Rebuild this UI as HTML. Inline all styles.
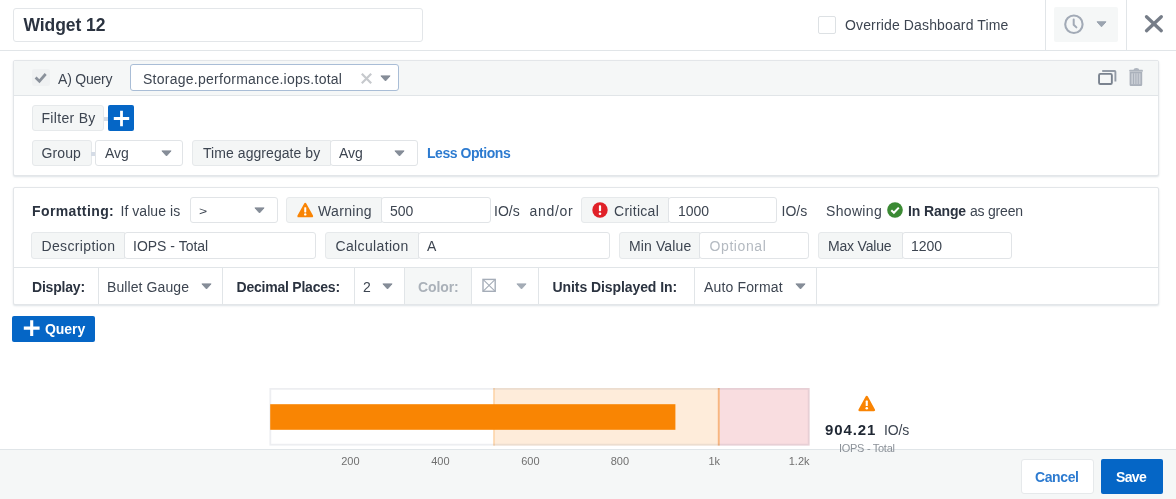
<!DOCTYPE html>
<html lang="en">
<head>
<meta charset="utf-8">
<title>Widget 12</title>
<style>
*{box-sizing:border-box;margin:0;padding:0}
html,body{width:1176px;height:499px;overflow:hidden;background:#fff}
body{position:relative;font-family:"Liberation Sans",sans-serif;font-size:14px;color:#3d4551}
.abs{position:absolute}
.t{position:absolute;white-space:nowrap;line-height:16px;height:16px}
.b{font-weight:bold}
.box{position:absolute;border:1px solid #e1e4e7;background:#fff;border-radius:3px}
.lbl{position:absolute;border:1px solid #e6e9eb;background:#f4f6f6;border-radius:3px}
.car{position:absolute;width:0;height:0;border-left:5px solid transparent;border-right:5px solid transparent;border-top:6px solid #8b939c}
.vd{position:absolute;width:1px;background:#e1e5e8}
.hd{position:absolute;height:1px;background:#e1e5e8}
.panel{position:absolute;border:1px solid #e3e6e9;background:#fff;border-radius:2px;box-shadow:0 1px 2px rgba(180,190,200,.45)}
.j{border-radius:3px 0 0 3px}
</style>
</head>
<body>

<!-- header -->
<div class="box" style="left:13px;top:8px;width:410px;height:34px;border-color:#e3e6e9"></div>
<span class="t b" id="t1" style="left:23.5px;top:15px;font-size:17.5px;line-height:20px;height:20px;color:#2b3340;letter-spacing:-0.06px">Widget 12</span>
<div class="box" style="left:818px;top:16px;width:18px;height:18px;border-color:#dde1e4;border-radius:2px"></div>
<span class="t" id="t2" style="left:845px;top:17px;letter-spacing:0.14px">Override Dashboard Time</span>
<div class="vd" style="left:1045px;top:0;height:50px"></div>
<div class="abs" style="left:1054px;top:7px;width:64px;height:35px;background:#f5f7f7;border-radius:2px"></div>
<svg class="abs" style="left:1063px;top:13px" width="22" height="23" viewBox="0 0 22 23"><circle cx="10.900" cy="11.250" r="8.700" fill="none" stroke="#a2aab6" stroke-width="2.100"/><path d="M10.700 6.400v5.300l2.700 2.700" fill="none" stroke="#a2aab6" stroke-width="2" stroke-linecap="round" stroke-linejoin="round"/></svg>
<svg class="abs" style="left:1096px;top:21px" width="11" height="7" viewBox="0 0 11 7"><path d="M1 .8h9L5.500 5.800z" fill="#9ba4b0" stroke="#9ba4b0" stroke-width="1" stroke-linejoin="round"/></svg>
<div class="vd" style="left:1126px;top:0;height:50px"></div>
<svg class="abs" style="left:1144px;top:14px" width="20" height="20" viewBox="0 0 20 20"><path d="M2.500 2.700l14.800 14M17.300 2.700l-14.800 14" stroke="#767d88" stroke-width="3.300" stroke-linecap="round" fill="none"/></svg>
<div class="hd" style="left:0;top:50px;width:1176px"></div>

<!-- query panel -->
<div class="panel" style="left:13px;top:60px;width:1146px;height:116px"></div>
<div class="abs" style="left:14px;top:61px;width:1144px;height:34px;background:#f5f7f7;border-radius:2px 2px 0 0"></div>
<div class="hd" style="left:14px;top:95px;width:1144px"></div>
<div class="abs" style="left:31.500px;top:69px;width:18px;height:17px;background:#eff1f2;border-radius:2px"></div>
<svg class="abs" style="left:33px;top:71px" width="15" height="13" viewBox="0 0 15 13"><path d="M2.600 6.500l3.800 3.700 6.300-7.200" stroke="#8a919b" stroke-width="2.700" fill="none"/></svg>
<span class="t" id="t3" style="left:58px;top:71px;letter-spacing:-0.21px">A) Query</span>
<div class="box" style="left:130px;top:64px;width:269px;height:27px;border-color:#a9bdd6"></div>
<span class="t" id="t4" style="left:143px;top:71px;letter-spacing:0.26px">Storage.performance.iops.total</span>
<svg class="abs" style="left:360px;top:72px" width="13" height="13" viewBox="0 0 13 13"><path d="M1.800 1.800l9.400 9.400M11.200 1.800l-9.400 9.400" stroke="#c6c9cd" stroke-width="2.200" fill="none"/></svg>
<svg class="abs" style="left:380px;top:74.5px" width="11" height="7" viewBox="0 0 11 7"><path d="M.9 .9h9.200L5.500 5.900z" fill="#858d98" stroke="#858d98" stroke-width="1" stroke-linejoin="round"/></svg>
<svg class="abs" style="left:1097px;top:69px" width="21" height="18" viewBox="0 0 21 18"><path d="M5.200 2h12.400a.8.800 0 0 1 .8.800v9.800" fill="none" stroke="#939ba6" stroke-width="1.900"/><rect x="2.050" y="4.850" width="12.800" height="10.100" rx="1.300" fill="none" stroke="#7a838f" stroke-width="1.900"/></svg>
<svg class="abs" style="left:1128px;top:67px" width="16" height="20" viewBox="0 0 16 20"><path d="M5.600 3.100a2.750 2.200 0 0 1 5.500 0z" fill="#aeb5be"/><rect x="1.400" y="2.800" width="13.400" height="1.900" rx=".5" fill="#aeb5be"/><path d="M1.600 4.900h12.600v12.900a1.200 1.200 0 0 1-1.200 1.200h-10.200a1.200 1.200 0 0 1-1.200-1.200z" fill="#aab1bb"/><rect x="3.300" y="6.300" width="9.200" height="10.900" fill="#c9ced5"/><path d="M5.500 6.300v10.900M7.900 6.300v10.900M10.300 6.300v10.900" stroke="#aab1bb" stroke-width="1"/></svg>

<div class="lbl" style="left:32px;top:105px;width:72px;height:26px"></div>
<span class="t" id="t5" style="left:41.5px;top:110px;letter-spacing:0.31px">Filter By</span>
<div class="abs" style="left:104px;top:117px;width:5px;height:4px;background:#d5dce6"></div>
<div class="abs" style="left:108px;top:105px;width:26px;height:26px;background:#0566c6;border-radius:2px"></div>
<svg class="abs" style="left:113px;top:110px" width="17" height="17" viewBox="0 0 17 17"><path d="M8.500 .800v15.400M.800 8.500h15.400" stroke="#fff" stroke-width="2.800"/></svg>

<div class="lbl" style="left:32px;top:140px;width:60px;height:26px"></div>
<span class="t" id="t6" style="left:41.5px;top:145px;letter-spacing:0.12px">Group</span>
<div class="abs" style="left:91px;top:152px;width:5px;height:4px;background:#d5dce6"></div>
<div class="box" style="left:95px;top:140px;width:88px;height:26px"></div>
<span class="t" id="t7" style="left:105px;top:145px">Avg</span>
<svg class="abs" style="left:161px;top:149.5px" width="11" height="7" viewBox="0 0 11 7"><path d="M.9 .9h9.200L5.500 5.900z" fill="#858d98" stroke="#858d98" stroke-width="1" stroke-linejoin="round"/></svg>
<div class="lbl j" style="left:192px;top:140px;width:139px;height:26px"></div>
<span class="t" id="t8" style="left:203px;top:145px;letter-spacing:0.06px">Time aggregate by</span>
<div class="box" style="left:330px;top:140px;width:88px;height:26px"></div>
<span class="t" id="t9" style="left:339px;top:145px">Avg</span>
<svg class="abs" style="left:394px;top:149.5px" width="11" height="7" viewBox="0 0 11 7"><path d="M.9 .9h9.200L5.500 5.900z" fill="#858d98" stroke="#858d98" stroke-width="1" stroke-linejoin="round"/></svg>
<span class="t b" id="t10" style="left:427px;top:145px;color:#2d7bd0;letter-spacing:-0.45px">Less Options</span>

<!-- formatting panel -->
<div class="panel" style="left:13px;top:187px;width:1146px;height:118px"></div>
<span class="t b" id="t11" style="left:32px;top:203px;color:#2b3340;letter-spacing:0.4px">Formatting:</span>
<span class="t" id="t12" style="left:120.5px;top:203px;letter-spacing:0.05px">If value is</span>
<div class="box" style="left:190px;top:197px;width:88px;height:26px"></div>
<span class="t" id="t13" style="left:199px;top:203px;transform:scaleY(.76)">&gt;</span>
<svg class="abs" style="left:254px;top:206.5px" width="11" height="7" viewBox="0 0 11 7"><path d="M.9 .9h9.200L5.500 5.900z" fill="#858d98" stroke="#858d98" stroke-width="1" stroke-linejoin="round"/></svg>

<div class="lbl j" style="left:286px;top:197px;width:96px;height:26px"></div>
<svg class="abs" style="left:297px;top:202px" width="16.500" height="16" viewBox="0 0 18 17"><path d="M9 2L16.300 15.200H1.700z" fill="#f98404" stroke="#f98404" stroke-width="2.600" stroke-linejoin="round"/><rect x="7.900" y="5.500" width="2.200" height="5.600" rx=".6" fill="#fff"/><circle cx="9" cy="13.300" r="1.300" fill="#fff"/></svg>
<span class="t" id="t14" style="left:318px;top:203px;letter-spacing:0.33px">Warning</span>
<div class="box" style="left:381px;top:197px;width:110px;height:26px"></div>
<span class="t" id="t15" style="left:390px;top:203px">500</span>
<span class="t" id="t16" style="left:494px;top:203px">IO/s</span>
<span class="t" id="t17" style="left:529.5px;top:203px;letter-spacing:0.7px">and/or</span>

<div class="lbl j" style="left:581px;top:197px;width:88px;height:26px"></div>
<svg class="abs" style="left:592px;top:202px" width="16" height="16" viewBox="0 0 16 16"><circle cx="8" cy="8" r="7.700" fill="#e02128"/><rect x="6.900" y="3.200" width="2.200" height="6" rx=".8" fill="#fff"/><circle cx="8" cy="11.800" r="1.300" fill="#fff"/></svg>
<span class="t" id="t18" style="left:614px;top:203px;letter-spacing:0.29px">Critical</span>
<div class="box" style="left:668px;top:197px;width:109px;height:26px"></div>
<span class="t" id="t19" style="left:678px;top:203px">1000</span>
<span class="t" id="t20" style="left:781.5px;top:203px">IO/s</span>
<span class="t" id="t21" style="left:826px;top:203px;letter-spacing:0.33px">Showing</span>
<svg class="abs" style="left:887px;top:202px" width="16" height="16" viewBox="0 0 16 16"><circle cx="8" cy="8" r="7.800" fill="#3b8a34"/><path d="M4.300 8.200l2.600 2.600 4.900-5.200" stroke="#fff" stroke-width="2" fill="none"/></svg>
<span class="t b" id="t22" style="left:908px;top:203px;color:#2b3340;letter-spacing:-0.14px">In Range</span>
<span class="t" id="t23" style="left:970px;top:203px;letter-spacing:-0.21px">as green</span>

<div class="lbl j" style="left:31px;top:232px;width:94px;height:27px"></div>
<span class="t" id="t24" style="left:41.5px;top:238px;letter-spacing:0.35px">Description</span>
<div class="box" style="left:124px;top:232px;width:192px;height:27px"></div>
<span class="t" id="t25" style="left:133px;top:238px">IOPS - Total</span>
<div class="lbl j" style="left:325px;top:232px;width:94px;height:27px"></div>
<span class="t" id="t26" style="left:335.5px;top:238px;letter-spacing:0.35px">Calculation</span>
<div class="box" style="left:418px;top:232px;width:192px;height:27px"></div>
<span class="t" id="t27" style="left:427px;top:238px">A</span>
<div class="lbl j" style="left:619px;top:232px;width:81px;height:27px"></div>
<span class="t" id="t28" style="left:629px;top:238px;letter-spacing:0.12px">Min Value</span>
<div class="box" style="left:699px;top:232px;width:110px;height:27px"></div>
<span class="t" id="t29" style="left:709.5px;top:238px;color:#b4bac1;letter-spacing:0.6px">Optional</span>
<div class="lbl j" style="left:818px;top:232px;width:85px;height:27px"></div>
<span class="t" id="t30" style="left:828px;top:238px;letter-spacing:-0.19px">Max Value</span>
<div class="box" style="left:902px;top:232px;width:110px;height:27px"></div>
<span class="t" id="t31" style="left:911px;top:238px">1200</span>

<div class="hd" style="left:14px;top:267px;width:1144px"></div>
<span class="t b" id="t32" style="left:32px;top:279px;color:#2b3340;letter-spacing:-0.2px">Display:</span>
<div class="vd" style="left:98px;top:268px;height:36px"></div>
<span class="t" id="t33" style="left:107px;top:279px;letter-spacing:0.09px">Bullet Gauge</span>
<svg class="abs" style="left:201px;top:282.5px" width="11" height="7" viewBox="0 0 11 7"><path d="M.9 .9h9.200L5.500 5.900z" fill="#858d98" stroke="#858d98" stroke-width="1" stroke-linejoin="round"/></svg>
<div class="vd" style="left:222px;top:268px;height:36px"></div>
<span class="t b" id="t34" style="left:236.5px;top:279px;color:#2b3340;letter-spacing:-0.22px">Decimal Places:</span>
<div class="vd" style="left:354px;top:268px;height:36px"></div>
<span class="t" id="t35" style="left:363px;top:279px">2</span>
<svg class="abs" style="left:382px;top:282.5px" width="11" height="7" viewBox="0 0 11 7"><path d="M.9 .9h9.200L5.500 5.900z" fill="#858d98" stroke="#858d98" stroke-width="1" stroke-linejoin="round"/></svg>
<div class="abs" style="left:404px;top:268px;width:68px;height:36px;background:#f5f7f7;border-left:1px solid #e1e5e8;border-right:1px solid #e1e5e8"></div>
<span class="t b" id="t36" style="left:418px;top:279px;color:#aab1b9;letter-spacing:-0.1px">Color:</span>
<svg class="abs" style="left:482px;top:278px" width="15" height="15" viewBox="0 0 15 15"><rect x="1" y="1.400" width="12.200" height="11.900" fill="none" stroke="#a5adb8" stroke-width="1.400"/><path d="M1 1.400l12.200 11.900M13.200 1.400l-12.200 11.900" stroke="#a5adb8" stroke-width="1.100"/></svg>
<svg class="abs" style="left:516px;top:282.5px" width="11" height="7" viewBox="0 0 11 7"><path d="M.9 .9h9.200L5.500 5.900z" fill="#a4acb6" stroke="#a4acb6" stroke-width="1" stroke-linejoin="round"/></svg>
<div class="vd" style="left:538px;top:268px;height:36px"></div>
<span class="t b" id="t37" style="left:552.5px;top:279px;color:#2b3340;letter-spacing:-0.08px">Units Displayed In:</span>
<div class="vd" style="left:694px;top:268px;height:36px"></div>
<span class="t" id="t38" style="left:704px;top:279px;letter-spacing:0.15px">Auto Format</span>
<svg class="abs" style="left:795px;top:282.5px" width="11" height="7" viewBox="0 0 11 7"><path d="M.9 .9h9.200L5.500 5.900z" fill="#858d98" stroke="#858d98" stroke-width="1" stroke-linejoin="round"/></svg>
<div class="vd" style="left:816px;top:268px;height:36px"></div>

<!-- add query -->
<div class="abs" style="left:12px;top:316px;width:83px;height:26px;background:#0566c6;border-radius:2px"></div>
<svg class="abs" style="left:23px;top:320px" width="17" height="17" viewBox="0 0 17 17"><path d="M8.700 .300v15.600M.800 8.100h15.800" stroke="#fff" stroke-width="3.100"/></svg>
<span class="t b" id="t39" style="left:45px;top:321px;color:#fff;letter-spacing:-0.05px">Query</span>

<!-- gauge -->
<div class="abs" style="left:0;top:450px;width:1176px;height:49px;background:#f5f7f7"></div>
<div class="hd" style="left:0;top:449px;width:1176px;background:#e0e5e8"></div>
<svg class="abs" style="left:260px;top:380px" width="560" height="70" viewBox="0 0 560 70">
<rect x="9.400" y="8" width="540.200" height="57.600" fill="#fff"/>
<rect x="233.200" y="8" width="225" height="57.600" fill="#feecda"/>
<rect x="233.200" y="8" width="1.800" height="57.600" fill="#fdd9b2"/>
<rect x="459.800" y="8" width="89.800" height="57.600" fill="#f9dde0"/>
<rect x="457.800" y="8" width="2" height="57.600" fill="#f7b580"/>
<rect x="10.300" y="8.900" width="538.400" height="55.800" fill="none" stroke="#505a78" stroke-opacity=".1" stroke-width="1.800"/>
<rect x="10.200" y="24.200" width="405.200" height="25.600" fill="#f98503"/>
</svg>
<svg class="abs" style="left:250px;top:452px" width="580" height="20" viewBox="0 0 580 20">
<g font-family="Liberation Sans, sans-serif" font-size="11" fill="#707070" text-anchor="end">
<text x="109.500" y="13">200</text><text x="199.500" y="13">400</text><text x="289.500" y="13">600</text><text x="379" y="13">800</text><text x="470" y="13">1k</text><text x="559.500" y="13">1.2k</text>
</g></svg>
<svg class="abs" style="left:858px;top:395px" width="17.500" height="17" viewBox="0 0 18 17"><path d="M9 2L16.300 15.200H1.700z" fill="#f98404" stroke="#f98404" stroke-width="2.600" stroke-linejoin="round"/><rect x="7.900" y="5.500" width="2.200" height="5.600" rx=".6" fill="#fff"/><circle cx="9" cy="13.300" r="1.300" fill="#fff"/></svg>
<span class="t b" id="t40" style="left:825px;top:421px;font-size:15px;line-height:18px;height:18px;color:#1f2733;letter-spacing:0.9px">904.21</span>
<span class="t" id="t41" style="left:884px;top:422px;font-size:14px;letter-spacing:-0.15px">IO/s</span>
<span class="t" id="t42" style="left:839px;top:442px;font-size:11px;line-height:12px;height:12px;color:#8c9299;letter-spacing:-0.29px">IOPS - Total</span>

<!-- footer -->
<div class="box" style="left:1021px;top:459px;width:73px;height:35px;border-color:#e6e9eb"></div>
<span class="t b" id="t43" style="left:1035px;top:469px;font-size:14px;color:#2d7bd0;letter-spacing:-0.4px">Cancel</span>
<div class="abs" style="left:1101px;top:459px;width:62px;height:35px;background:#0566c6;border-radius:2px"></div>
<span class="t b" id="t44" style="left:1116px;top:469px;font-size:14px;color:#fff;letter-spacing:-0.67px">Save</span>

</body>
</html>
